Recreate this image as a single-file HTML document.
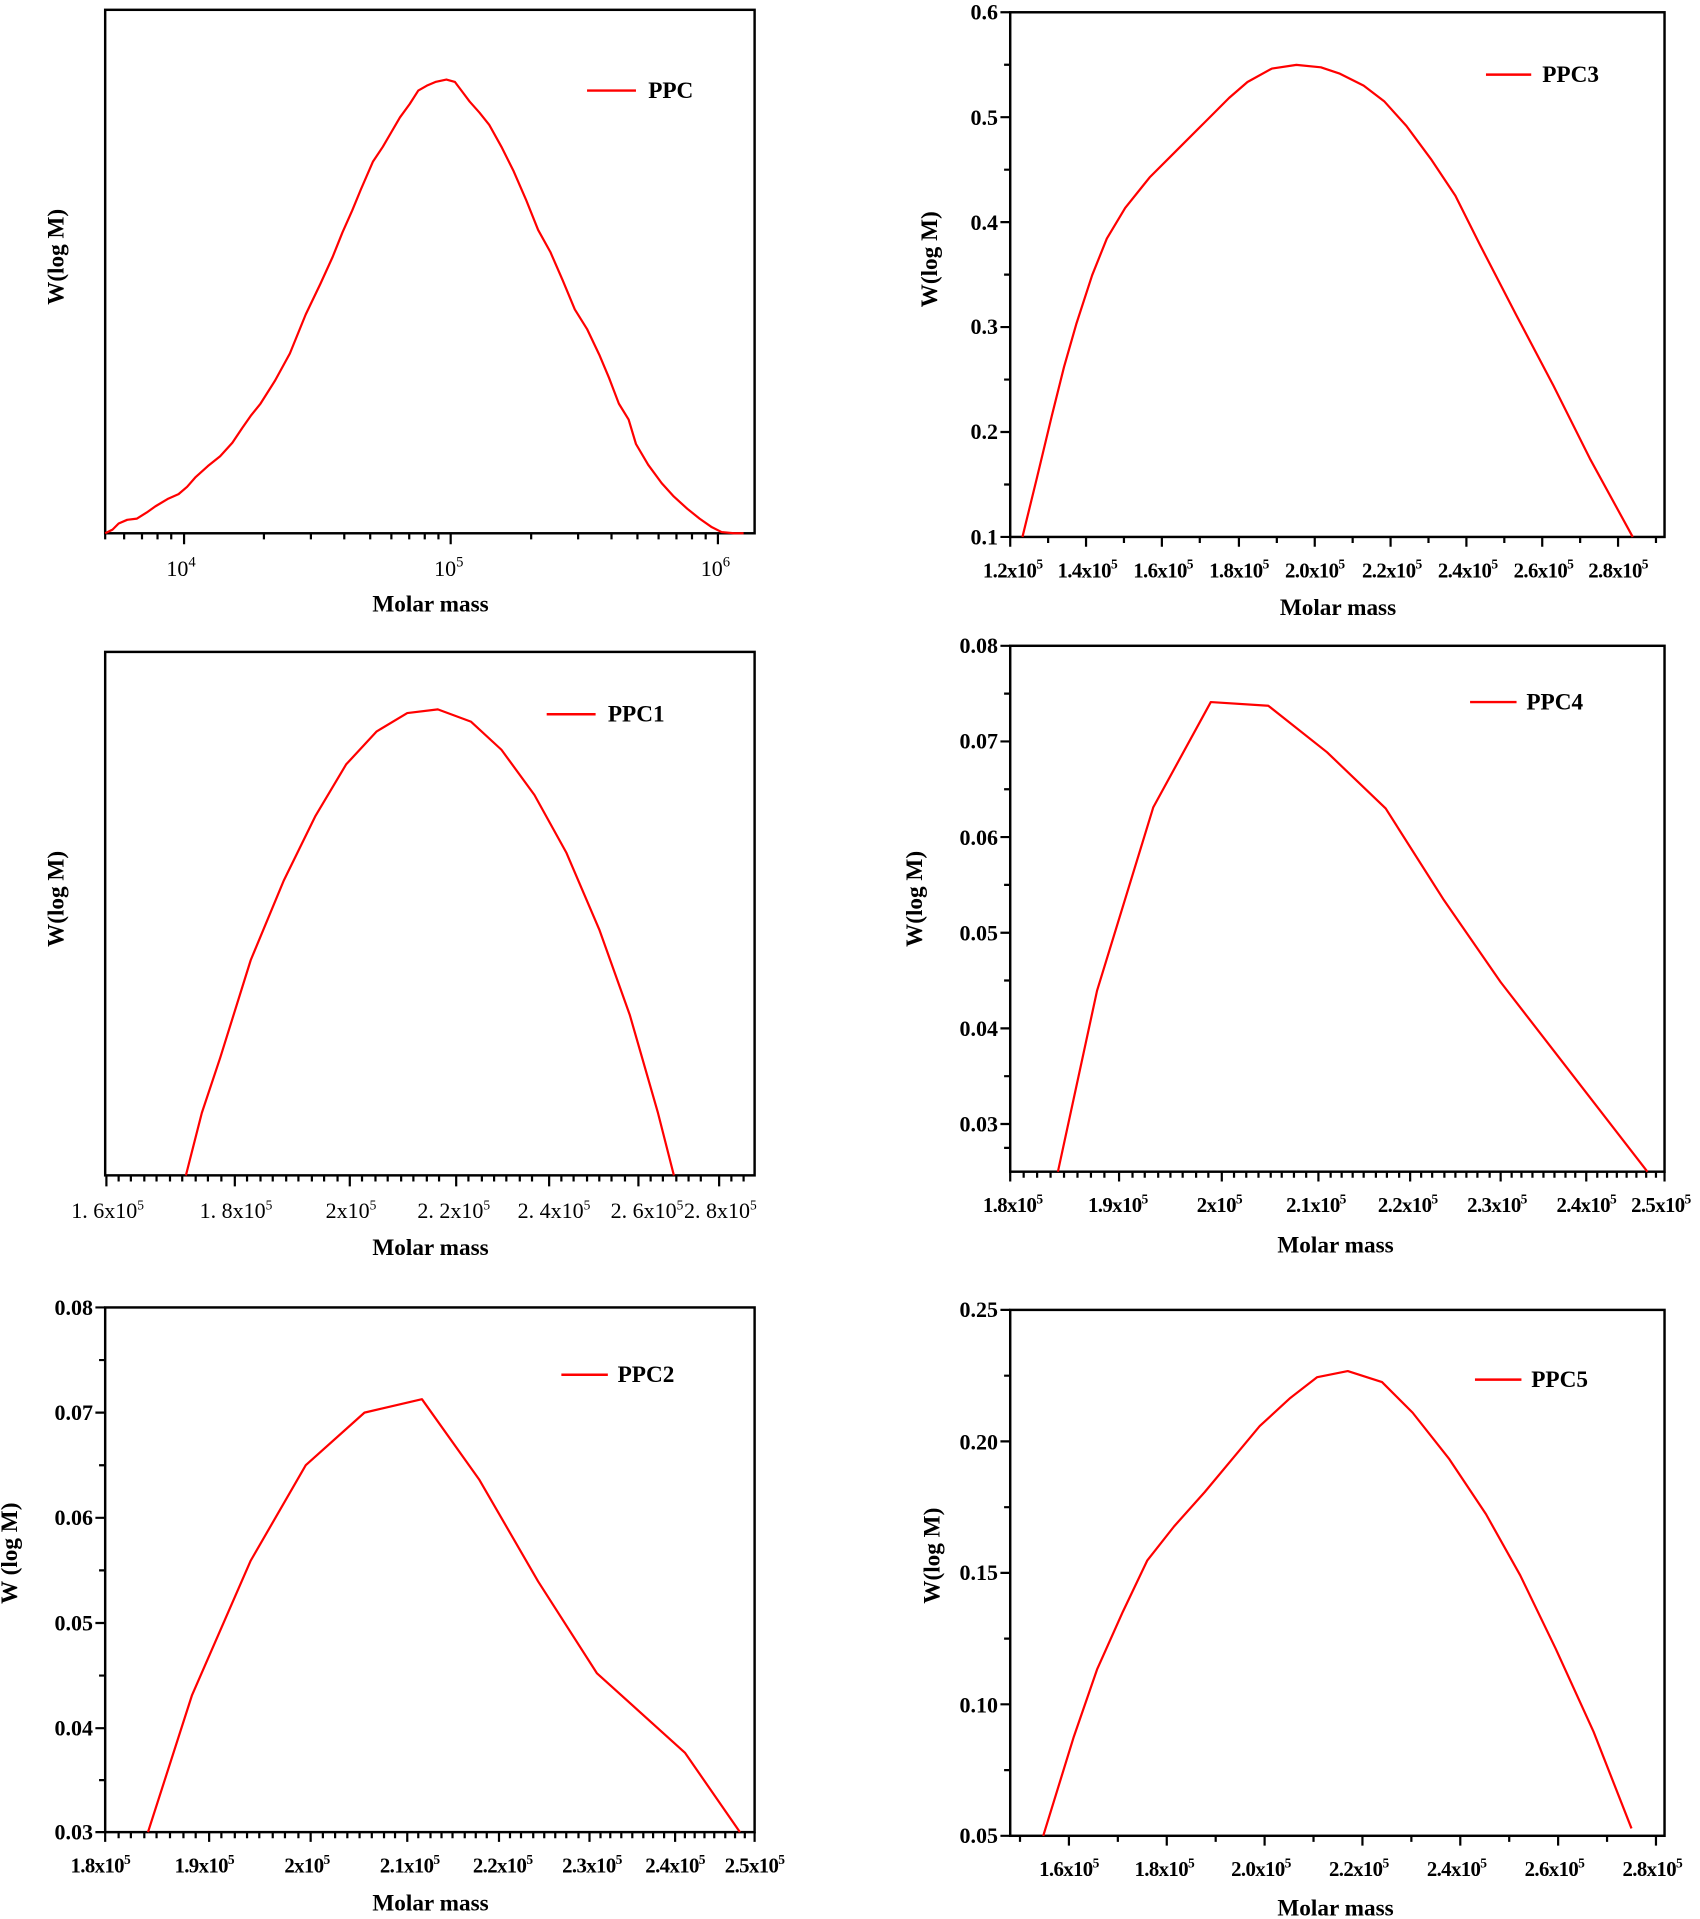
<!DOCTYPE html>
<html><head><meta charset="utf-8"><style>
html,body{margin:0;padding:0;background:#fff;}
svg{display:block;}
text{font-family:"Liberation Serif",serif;fill:#000;}
.b{font-weight:bold;}
.t{font-size:18px;}
.ti{font-size:19px;font-weight:bold;}
.f{fill:none;stroke:#000;stroke-width:2;}
.k{fill:none;stroke:#000;stroke-width:1.8;}
.c{fill:none;stroke:#f00;stroke-width:1.8;stroke-linejoin:round;}
.l{stroke:#f00;stroke-width:2;}
</style></head><body>
<svg width="1700" height="1919" viewBox="0 0 1390 1569" xmlns="http://www.w3.org/2000/svg">
<rect width="1390" height="1569" fill="#fff"/>

<!-- Panel 1 PPC -->
<rect class="f" x="86" y="8" width="531" height="428"/>
<path class="k" d="M150.5 436v9M368.5 436v9M587 436v9
M101.5 436v5M116.1 436v5M128.8 436v5M140 436v5
M215.8 436v5M254.2 436v5M281.5 436v5M302.7 436v5M320 436v5M334.6 436v5M347.3 436v5M358.5 436v5
M434.3 436v5M472.7 436v5M500 436v5M521.2 436v5M538.5 436v5M553.1 436v5M565.8 436v5M577 436v5M86 436v5"/>
<text class="t" x="136" y="471">10<tspan font-size="12" dy="-8">4</tspan></text>
<text class="t" x="355" y="471">10<tspan font-size="12" dy="-8">5</tspan></text>
<text class="t" x="573" y="471">10<tspan font-size="12" dy="-8">6</tspan></text>
<text class="ti" x="352" y="500" text-anchor="middle">Molar mass</text>
<text class="ti" transform="translate(52,210) rotate(-90)" text-anchor="middle">W(log M)</text>
<line class="l" x1="480" y1="74" x2="520" y2="74"/>
<text class="ti" x="530" y="80">PPC</text>
<polyline class="c" points="86,436 92,433 97,428 104,425 112,424 120,419 127,414 137,408 146,404 153,398 160,390 170,381 180,373 190,362 198,350 205,340 213,330 225,311 237,289 250,257 262,232 272,210 280,190 288,172 295,155 305,132 313,120 320,108 327,96 335,85 342,74 349,70 356,67 365,65 372,67 378,75 384,83 392,92 400,102 410,120 420,140 430,163 440,188 450,206 460,229 470,253 480,269 490,290 498,309 506,330 514,343 520,363 530,380 541,395 551,406 562,416 572,424 582,431 590,435 600,436 608,436"/>

<!-- Panel 2 PPC3 -->
<rect class="f" x="826" y="10" width="535" height="429"/>
<path class="k" d="M826 10h-8M826 95.8h-8M826 181.6h-8M826 267.4h-8M826 353.2h-8M826 439h-8
M826 52.9h-5M826 138.7h-5M826 224.5h-5M826 310.3h-5M826 396.1h-5
M826 439v8M888 439v8M950 439v8M1013 439v8M1075 439v8M1137 439v8M1199 439v8M1261 439v8M1323 439v8
M857 439v5M919 439v5M981 439v5M1044 439v5M1106 439v5M1168 439v5M1230 439v5M1292 439v5M1354 439v5"/>
<g class="b t" text-anchor="end">
<text x="816" y="16">0.6</text><text x="816" y="102">0.5</text><text x="816" y="188">0.4</text>
<text x="816" y="273">0.3</text><text x="816" y="359">0.2</text><text x="816" y="445">0.1</text>
</g>
<g class="b" font-size="17" text-anchor="middle" letter-spacing="-0.5">
<text x="828" y="472">1.2x10<tspan font-size="11" dy="-7">5</tspan></text>
<text x="889" y="472">1.4x10<tspan font-size="11" dy="-7">5</tspan></text>
<text x="951" y="472">1.6x10<tspan font-size="11" dy="-7">5</tspan></text>
<text x="1013" y="472">1.8x10<tspan font-size="11" dy="-7">5</tspan></text>
<text x="1075" y="472">2.0x10<tspan font-size="11" dy="-7">5</tspan></text>
<text x="1138" y="472">2.2x10<tspan font-size="11" dy="-7">5</tspan></text>
<text x="1200" y="472">2.4x10<tspan font-size="11" dy="-7">5</tspan></text>
<text x="1262" y="472">2.6x10<tspan font-size="11" dy="-7">5</tspan></text>
<text x="1323" y="472">2.8x10<tspan font-size="11" dy="-7">5</tspan></text>
</g>
<text class="ti" x="1094" y="503" text-anchor="middle">Molar mass</text>
<text class="ti" transform="translate(766,212) rotate(-90)" text-anchor="middle">W(log M)</text>
<line class="l" x1="1215" y1="61" x2="1252" y2="61"/>
<text class="ti" x="1261" y="67">PPC3</text>
<polyline class="c" points="836,439 848,390 860,340 870,300 880,265 893,225 905,195 920,170 940,145 960,125 985,100 1005,80 1020,67 1040,56 1060,53 1080,55 1095,60 1115,70 1132,83 1150,103 1170,130 1190,160 1210,200 1240,258 1270,315 1300,375 1335,439"/>

<!-- Panel 3 PPC1 -->
<rect class="f" x="86" y="533" width="531" height="428"/>
<path class="k" d="M87 961v9M192 961v9M286 961v9M373 961v9M449 961v9M522 961v9M588 961v9
M97 961v5M107 961v5M118 961v5M128 961v5M139 961v5M149 961v5M160 961v5M170 961v5M181 961v5M202 961v5M213 961v5M223 961v5M234 961v5M244 961v5M255 961v5M265 961v5M276 961v5M296 961v5M307 961v5M317 961v5M328 961v5M338 961v5M349 961v5M359 961v5M383 961v5M394 961v5M404 961v5M414 961v5M425 961v5M435 961v5M459 961v5M469 961v5M480 961v5M490 961v5M500 961v5M511 961v5M532 961v5M542 961v5M553 961v5M563 961v5M573 961v5M598 961v5M608 961v5"/>
<g text-anchor="middle" font-size="18">
<text x="88" y="996">1. 6x10<tspan font-size="11" dy="-7">5</tspan></text>
<text x="193" y="996">1. 8x10<tspan font-size="11" dy="-7">5</tspan></text>
<text x="287" y="996">2x10<tspan font-size="11" dy="-7">5</tspan></text>
<text x="371" y="996">2. 2x10<tspan font-size="11" dy="-7">5</tspan></text>
<text x="453" y="996">2. 4x10<tspan font-size="11" dy="-7">5</tspan></text>
<text x="529" y="996">2. 6x10<tspan font-size="11" dy="-7">5</tspan></text>
<text x="589" y="996">2. 8x10<tspan font-size="11" dy="-7">5</tspan></text>
</g>
<text class="ti" x="352" y="1026" text-anchor="middle">Molar mass</text>
<text class="ti" transform="translate(52,735) rotate(-90)" text-anchor="middle">W(log M)</text>
<line class="l" x1="447" y1="584" x2="487" y2="584"/>
<text class="ti" x="497" y="590">PPC1</text>
<polyline class="c" points="152,961 165,910 180,865 205,785 232,720 258,667 283,625 308,598 333,583 358,580 385,590 410,613 437,650 463,697 490,760 515,830 538,910 551,961"/>

<!-- Panel 4 PPC4 -->
<rect class="f" x="826" y="528" width="535" height="430"/>
<path class="k" d="M826 528h-8M826 606.2h-8M826 684.4h-8M826 762.6h-8M826 840.8h-8M826 919h-8
M826 567.1h-5M826 645.3h-5M826 723.5h-5M826 801.7h-5M826 879.9h-5M826 938.5h-5
M826 958v8M915 958v8M999 958v8M1078 958v8M1153 958v8M1227 958v8M1297 958v8M1361 958v8
M837 958v5M848 958v5M859 958v5M870 958v5M881 958v5M892 958v5M903 958v5M926 958v5M936 958v5M947 958v5M957 958v5M967 958v5M978 958v5M988 958v5M1009 958v5M1019 958v5M1029 958v5M1039 958v5M1048 958v5M1058 958v5M1068 958v5M1088 958v5M1097 958v5M1106 958v5M1115 958v5M1125 958v5M1134 958v5M1144 958v5M1162 958v5M1171 958v5M1181 958v5M1190 958v5M1199 958v5M1208 958v5M1218 958v5M1236 958v5M1244 958v5M1253 958v5M1262 958v5M1271 958v5M1280 958v5M1288 958v5M1306 958v5M1314 958v5M1322 958v5M1330 958v5M1338 958v5M1346 958v5M1354 958v5"/>
<g class="b t" text-anchor="end">
<text x="816" y="534">0.08</text><text x="816" y="612">0.07</text><text x="816" y="691">0.06</text>
<text x="816" y="769">0.05</text><text x="816" y="847">0.04</text><text x="816" y="925">0.03</text>
</g>
<g class="b" font-size="17" text-anchor="middle" letter-spacing="-0.5">
<text x="828" y="991">1.8x10<tspan font-size="11" dy="-7">5</tspan></text>
<text x="914" y="991">1.9x10<tspan font-size="11" dy="-7">5</tspan></text>
<text x="997" y="991">2x10<tspan font-size="11" dy="-7">5</tspan></text>
<text x="1076" y="991">2.1x10<tspan font-size="11" dy="-7">5</tspan></text>
<text x="1151" y="991">2.2x10<tspan font-size="11" dy="-7">5</tspan></text>
<text x="1224" y="991">2.3x10<tspan font-size="11" dy="-7">5</tspan></text>
<text x="1297" y="991">2.4x10<tspan font-size="11" dy="-7">5</tspan></text>
<text x="1358" y="991">2.5x10<tspan font-size="11" dy="-7">5</tspan></text>
</g>
<text class="ti" x="1092" y="1024" text-anchor="middle">Molar mass</text>
<text class="ti" transform="translate(754,735) rotate(-90)" text-anchor="middle">W(log M)</text>
<line class="l" x1="1202" y1="574" x2="1240" y2="574"/>
<text class="ti" x="1248" y="580">PPC4</text>
<polyline class="c" points="865,958 897,810 943,660 990,574 1037,577 1085,615 1133,661 1180,735 1227,803 1275,865 1347,958"/>

<!-- Panel 5 PPC2 -->
<rect class="f" x="86" y="1069" width="531" height="429"/>
<path class="k" d="M86 1069h-8M86 1155h-8M86 1241h-8M86 1327h-8M86 1413h-8M86 1498h-8
M86 1112h-5M86 1198h-5M86 1284h-5M86 1370h-5M86 1455.5h-5
M86 1498v8M171 1498v8M254 1498v8M333 1498v8M408 1498v8M482 1498v8M552 1498v8M617 1498v8
M97 1498v5M107 1498v5M118 1498v5M128 1498v5M139 1498v5M150 1498v5M160 1498v5M181 1498v5M192 1498v5M202 1498v5M212 1498v5M223 1498v5M233 1498v5M244 1498v5M264 1498v5M274 1498v5M284 1498v5M294 1498v5M304 1498v5M314 1498v5M323 1498v5M342 1498v5M352 1498v5M361 1498v5M370 1498v5M380 1498v5M389 1498v5M398 1498v5M417 1498v5M426 1498v5M436 1498v5M445 1498v5M454 1498v5M463 1498v5M473 1498v5M491 1498v5M499 1498v5M508 1498v5M517 1498v5M526 1498v5M534 1498v5M543 1498v5M560 1498v5M568 1498v5M576 1498v5M584 1498v5M593 1498v5M601 1498v5M609 1498v5"/>
<g class="b t" text-anchor="end">
<text x="76" y="1075">0.08</text><text x="76" y="1161">0.07</text><text x="76" y="1247">0.06</text>
<text x="76" y="1333">0.05</text><text x="76" y="1419">0.04</text><text x="76" y="1504">0.03</text>
</g>
<g class="b" font-size="17" text-anchor="middle" letter-spacing="-0.5">
<text x="82" y="1531">1.8x10<tspan font-size="11" dy="-7">5</tspan></text>
<text x="167" y="1531">1.9x10<tspan font-size="11" dy="-7">5</tspan></text>
<text x="251" y="1531">2x10<tspan font-size="11" dy="-7">5</tspan></text>
<text x="335" y="1531">2.1x10<tspan font-size="11" dy="-7">5</tspan></text>
<text x="411" y="1531">2.2x10<tspan font-size="11" dy="-7">5</tspan></text>
<text x="484" y="1531">2.3x10<tspan font-size="11" dy="-7">5</tspan></text>
<text x="552" y="1531">2.4x10<tspan font-size="11" dy="-7">5</tspan></text>
<text x="617" y="1531">2.5x10<tspan font-size="11" dy="-7">5</tspan></text>
</g>
<text class="ti" x="352" y="1562" text-anchor="middle">Molar mass</text>
<text class="ti" transform="translate(14,1270) rotate(-90)" text-anchor="middle">W (log M)</text>
<line class="l" x1="459" y1="1124" x2="497" y2="1124"/>
<text class="ti" x="505" y="1130">PPC2</text>
<polyline class="c" points="121,1498 157,1386 205,1276 250,1198 298,1155 345,1144 392,1210 440,1293 488,1368 560,1433 605,1498"/>

<!-- Panel 6 PPC5 -->
<rect class="f" x="826" y="1071" width="535" height="430"/>
<path class="k" d="M826 1071h-8M826 1178.5h-8M826 1286h-8M826 1393.5h-8M826 1501h-8
M826 1124.8h-5M826 1232.3h-5M826 1339.8h-5M826 1447.3h-5
M874 1501v8M954 1501v8M1034 1501v8M1114 1501v8M1194 1501v8M1274 1501v8M1354 1501v8
M834 1501v5M914 1501v5M994 1501v5M1074 1501v5M1154 1501v5M1234 1501v5M1314 1501v5"/>
<g class="b t" text-anchor="end">
<text x="816" y="1077">0.25</text><text x="816" y="1185">0.20</text><text x="816" y="1292">0.15</text>
<text x="816" y="1400">0.10</text><text x="816" y="1507">0.05</text>
</g>
<g class="b" font-size="17" text-anchor="middle" letter-spacing="-0.5">
<text x="874" y="1534">1.6x10<tspan font-size="11" dy="-7">5</tspan></text>
<text x="952" y="1534">1.8x10<tspan font-size="11" dy="-7">5</tspan></text>
<text x="1031" y="1534">2.0x10<tspan font-size="11" dy="-7">5</tspan></text>
<text x="1111" y="1534">2.2x10<tspan font-size="11" dy="-7">5</tspan></text>
<text x="1191" y="1534">2.4x10<tspan font-size="11" dy="-7">5</tspan></text>
<text x="1271" y="1534">2.6x10<tspan font-size="11" dy="-7">5</tspan></text>
<text x="1351" y="1534">2.8x10<tspan font-size="11" dy="-7">5</tspan></text>
</g>
<text class="ti" x="1092" y="1566" text-anchor="middle">Molar mass</text>
<text class="ti" transform="translate(768,1272) rotate(-90)" text-anchor="middle">W(log M)</text>
<line class="l" x1="1206" y1="1128" x2="1244" y2="1128"/>
<text class="ti" x="1252" y="1134">PPC5</text>
<polyline class="c" points="853,1501 878,1420 897,1365 918,1318 938,1276 960,1248 985,1220 1010,1190 1030,1166 1055,1143 1077,1126 1102,1121 1130,1130 1155,1155 1185,1193 1215,1238 1243,1288 1272,1348 1303,1416 1334,1495"/>
</svg>
</body></html>
